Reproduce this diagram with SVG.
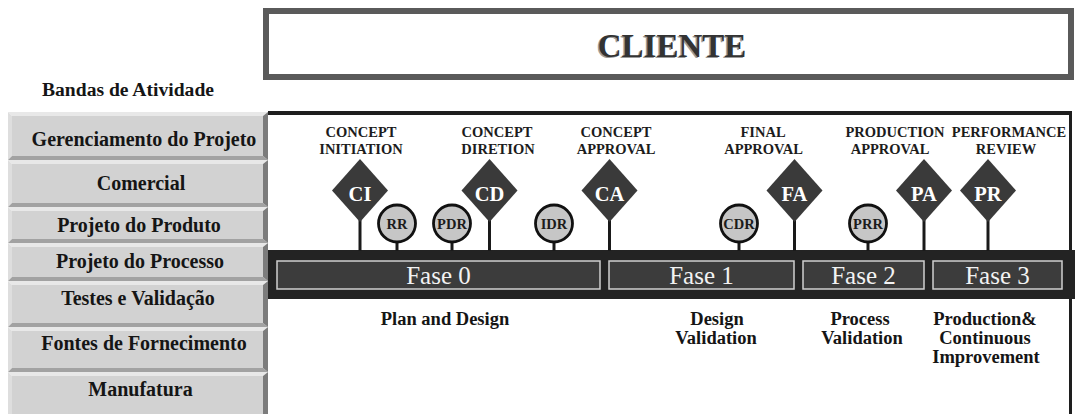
<svg xmlns="http://www.w3.org/2000/svg" width="1075" height="414" viewBox="0 0 1075 414">
<style>
.serif{font-family:"Liberation Serif","Times New Roman",serif;font-weight:bold}
.btn-face{fill:#d2d2d2}
.btn-top{fill:#e8e8e8}
.btn-left{fill:#dedede}
.btn-bot{fill:#a2a2a2}
.btn-right{fill:#7c7c7c}
.btn-txt{font-size:20px;fill:#151515;text-anchor:middle}
.lbl{font-size:14.5px;fill:#1c1c1c;text-anchor:middle}
.dia{fill:#3a3a3a}
.dia-txt{font-size:20.5px;fill:#ffffff;text-anchor:middle}
.circ{fill:#c6c6c6;stroke:#111;stroke-width:2.8}
.circ-txt{font-size:14.5px;fill:#1c1c1c;text-anchor:middle}
.stem{stroke:#1a1a1a;stroke-width:3}
.phase{fill:#3c3c3c;stroke:#cfcfcf;stroke-width:1.5}
.phase-txt{font-family:"Liberation Serif","Times New Roman",serif;font-size:25px;fill:#f2f2f2;text-anchor:middle}
.bottom-txt{font-size:18.5px;fill:#151515;text-anchor:middle}
</style>

<g id="cliente">
<rect x="266" y="11" width="805" height="66" fill="#ffffff" stroke="#5a5a5a" stroke-width="6"/>
<text class="serif" x="670.5" y="58" font-size="33" fill="#9a9a9a" text-anchor="middle">CLIENTE</text>
<text class="serif" x="672" y="57" font-size="33" fill="#333333" text-anchor="middle">CLIENTE</text>
</g>

<g id="bandas-title">
<text class="serif" x="128" y="96" font-size="19.6" fill="#151515" text-anchor="middle">Bandas de Atividade</text>
</g>

<g id="panel">
<rect x="268" y="111" width="804" height="4" fill="#1e1e1e"/>
<rect x="1069" y="111" width="3" height="303" fill="#1e1e1e"/>
<rect x="268" y="250" width="807" height="49" fill="#232323"/>
</g>

<g id="btn-gerenciamento">
<rect class="btn-face" x="12" y="116" width="251" height="40"/>
<polygon class="btn-top" points="8,112 268,112 263,116 12,116"/>
<polygon class="btn-left" points="8,112 12,116 12,156 8,160"/>
<polygon class="btn-bot" points="8,160 12,156 263,156 268,160"/>
<polygon class="btn-right" points="268,112 268,160 263,156 263,116"/>
<text class="serif btn-txt" x="144" y="146">Gerenciamento do Projeto</text>
</g>
<g id="btn-comercial">
<rect class="btn-face" x="12" y="164" width="251" height="39"/>
<polygon class="btn-top" points="8,160 268,160 263,164 12,164"/>
<polygon class="btn-left" points="8,160 12,164 12,203 8,207"/>
<polygon class="btn-bot" points="8,207 12,203 263,203 268,207"/>
<polygon class="btn-right" points="268,160 268,207 263,203 263,164"/>
<text class="serif btn-txt" x="141" y="190">Comercial</text>
</g>
<g id="btn-produto">
<rect class="btn-face" x="12" y="211" width="251" height="28"/>
<polygon class="btn-top" points="8,207 268,207 263,211 12,211"/>
<polygon class="btn-left" points="8,207 12,211 12,239 8,243"/>
<polygon class="btn-bot" points="8,243 12,239 263,239 268,243"/>
<polygon class="btn-right" points="268,207 268,243 263,239 263,211"/>
<text class="serif btn-txt" x="139" y="232">Projeto do Produto</text>
</g>
<g id="btn-processo">
<rect class="btn-face" x="12" y="247" width="251" height="30"/>
<polygon class="btn-top" points="8,243 268,243 263,247 12,247"/>
<polygon class="btn-left" points="8,243 12,247 12,277 8,281"/>
<polygon class="btn-bot" points="8,281 12,277 263,277 268,281"/>
<polygon class="btn-right" points="268,243 268,281 263,277 263,247"/>
<text class="serif btn-txt" x="140" y="268">Projeto do Processo</text>
</g>
<g id="btn-testes">
<rect class="btn-face" x="12" y="285" width="251" height="38"/>
<polygon class="btn-top" points="8,281 268,281 263,285 12,285"/>
<polygon class="btn-left" points="8,281 12,285 12,323 8,327"/>
<polygon class="btn-bot" points="8,327 12,323 263,323 268,327"/>
<polygon class="btn-right" points="268,281 268,327 263,323 263,285"/>
<text class="serif btn-txt" x="138" y="305">Testes e Validação</text>
</g>
<g id="btn-fontes">
<rect class="btn-face" x="12" y="331" width="251" height="37"/>
<polygon class="btn-top" points="8,327 268,327 263,331 12,331"/>
<polygon class="btn-left" points="8,327 12,331 12,368 8,372"/>
<polygon class="btn-bot" points="8,372 12,368 263,368 268,372"/>
<polygon class="btn-right" points="268,327 268,372 263,368 263,331"/>
<text class="serif btn-txt" x="144" y="350">Fontes de Fornecimento</text>
</g>
<g id="btn-manufatura">
<rect class="btn-face" x="12" y="376" width="251" height="40"/>
<polygon class="btn-top" points="8,372 268,372 263,376 12,376"/>
<polygon class="btn-left" points="8,372 12,376 12,416 8,420"/>
<polygon class="btn-right" points="268,372 268,420 263,416 263,376"/>
<text class="serif btn-txt" x="140.5" y="396">Manufatura</text>
</g>

<g id="connectors">
<line class="stem" x1="360" y1="220" x2="360" y2="251"/>
<line class="stem" x1="489.5" y1="220" x2="489.5" y2="251"/>
<line class="stem" x1="609.5" y1="220" x2="609.5" y2="251"/>
<line class="stem" x1="794.5" y1="220" x2="794.5" y2="251"/>
<line class="stem" x1="924" y1="220" x2="924" y2="251"/>
<line class="stem" x1="988" y1="220" x2="988" y2="251"/>
<line class="stem" x1="397" y1="242" x2="397" y2="251"/>
<line class="stem" x1="452" y1="242" x2="452" y2="251"/>
<line class="stem" x1="554" y1="242" x2="554" y2="251"/>
<line class="stem" x1="739" y1="242" x2="739" y2="251"/>
<line class="stem" x1="868" y1="242" x2="868" y2="251"/>
</g>

<g id="ms-ci">
<text class="serif lbl" x="361" y="137">CONCEPT</text>
<text class="serif lbl" x="361" y="154">INITIATION</text>
<polygon class="dia" points="360,159 388,190.5 360,222 332,190.5"/>
<text class="serif dia-txt" x="360" y="201">CI</text>
</g>
<g id="ms-cd">
<text class="serif lbl" x="497" y="137">CONCEPT</text>
<text class="serif lbl" x="498" y="154">DIRETION</text>
<polygon class="dia" points="489.5,159 517.5,190.5 489.5,222 461.5,190.5"/>
<text class="serif dia-txt" x="489.5" y="201">CD</text>
</g>
<g id="ms-ca">
<text class="serif lbl" x="616" y="137">CONCEPT</text>
<text class="serif lbl" x="616" y="154">APPROVAL</text>
<polygon class="dia" points="609.5,159 637.5,190.5 609.5,222 581.5,190.5"/>
<text class="serif dia-txt" x="609.5" y="201">CA</text>
</g>
<g id="ms-fa">
<text class="serif lbl" x="763" y="137">FINAL</text>
<text class="serif lbl" x="763.5" y="154">APPROVAL</text>
<polygon class="dia" points="794.5,159 822.5,190.5 794.5,222 766.5,190.5"/>
<text class="serif dia-txt" x="794.5" y="201">FA</text>
</g>
<g id="ms-pa">
<text class="serif lbl" x="895" y="137">PRODUCTION</text>
<text class="serif lbl" x="890" y="154">APPROVAL</text>
<polygon class="dia" points="924,159 952,190.5 924,222 896,190.5"/>
<text class="serif dia-txt" x="924" y="201">PA</text>
</g>
<g id="ms-pr">
<text class="serif lbl" x="1009" y="137">PERFORMANCE</text>
<text class="serif lbl" x="1006" y="154">REVIEW</text>
<polygon class="dia" points="988,159 1016,190.5 988,222 960,190.5"/>
<text class="serif dia-txt" x="988" y="201">PR</text>
</g>

<g id="rv-rr">
<circle class="circ" cx="397" cy="223.5" r="18.5"/>
<text class="serif circ-txt" x="397" y="228.5">RR</text>
</g>
<g id="rv-pdr">
<circle class="circ" cx="452" cy="223.5" r="18.5"/>
<text class="serif circ-txt" x="452" y="228.5">PDR</text>
</g>
<g id="rv-idr">
<circle class="circ" cx="554" cy="223.5" r="18.5"/>
<text class="serif circ-txt" x="554" y="228.5">IDR</text>
</g>
<g id="rv-cdr">
<circle class="circ" cx="739" cy="223.5" r="18.5"/>
<text class="serif circ-txt" x="739" y="228.5">CDR</text>
</g>
<g id="rv-prr">
<circle class="circ" cx="868" cy="223.5" r="18.5"/>
<text class="serif circ-txt" x="868" y="228.5">PRR</text>
</g>

<g id="fase-0">
<rect class="phase" x="277" y="261" width="323" height="28"/>
<text class="phase-txt" x="438.5" y="284">Fase 0</text>
</g>
<g id="fase-1">
<rect class="phase" x="609" y="261" width="185" height="28"/>
<text class="phase-txt" x="701.5" y="284">Fase 1</text>
</g>
<g id="fase-2">
<rect class="phase" x="803" y="261" width="121" height="28"/>
<text class="phase-txt" x="863.5" y="284">Fase 2</text>
</g>
<g id="fase-3">
<rect class="phase" x="933" y="261" width="129" height="28"/>
<text class="phase-txt" x="997.5" y="284">Fase 3</text>
</g>

<g id="lbl-plan">
<text class="serif bottom-txt" x="445" y="325" font-size="19.5">Plan and Design</text>
</g>
<g id="lbl-design">
<text class="serif bottom-txt" x="717" y="325">Design</text>
<text class="serif bottom-txt" x="716" y="344">Validation</text>
</g>
<g id="lbl-process">
<text class="serif bottom-txt" x="860" y="325">Process</text>
<text class="serif bottom-txt" x="862" y="344">Validation</text>
</g>
<g id="lbl-production">
<text class="serif bottom-txt" x="985" y="325">Production&amp;</text>
<text class="serif bottom-txt" x="985" y="344">Continuous</text>
<text class="serif bottom-txt" x="986" y="363">Improvement</text>
</g>
</svg>
